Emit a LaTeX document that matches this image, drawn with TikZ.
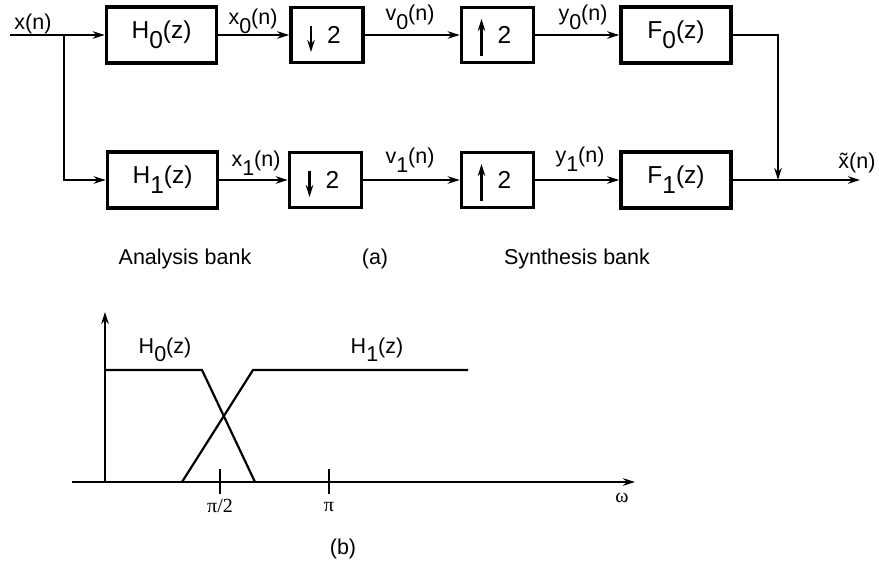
\documentclass[tikz,border=0pt]{standalone}
\usepackage{fontspec}
\setmainfont{Liberation Sans}
\newfontfamily\axisfont{Liberation Serif}
\usetikzlibrary{arrows.meta}
\newcommand\lowsub[1]{\raisebox{-0.4em}{#1}}

\begin{document}
\begin{tikzpicture}[x=1pt, y=-1pt, >={Stealth[length=12pt,width=7.5pt]}]
  \tikzset{
    bigblk/.style={draw, line width=3.6pt, minimum width=110pt, minimum height=56pt,
      inner sep=0pt, font=\fontsize{24.5}{24.5}\selectfont},
    smallblk/.style={bigblk, minimum width=72pt, minimum height=55pt},
    sig/.style={line width=2.2pt},
    siglbl/.style={anchor=base, inner sep=0pt, font=\fontsize{21.5}{21.5}\selectfont},
    caption/.style={anchor=base, inner sep=0pt, font=\fontsize{21.5}{21.5}\selectfont},
    axislbl/.style={anchor=base, inner sep=0pt, font=\axisfont\fontsize{20}{20}\selectfont},
  }
  \useasboundingbox (0,0) rectangle (879,564);

  % ---- (a) the two-channel bank, upper channel first -----------------------
  \node[bigblk]   (h0) at (161.5,35) {H\lowsub{0}(z)};
  \node[smallblk] (d0) at (327,35)   {\hspace*{14pt}2};
  \node[smallblk] (u0) at (497.5,35) {\hspace*{14pt}2};
  \node[bigblk]   (f0) at (676,35)   {F\lowsub{0}(z)};
  \node[bigblk]   (h1) at (162.5,180) {H\lowsub{1}(z)};
  \node[smallblk] (d1) at (325.5,180) {\hspace*{14pt}2};
  \node[smallblk] (u1) at (497.5,180) {\hspace*{14pt}2};
  \node[bigblk]   (f1) at (676,180)   {F\lowsub{1}(z)};

  % rate-change arrows inside the decimator / expander blocks
  \foreach \b in {d0,d1}
    \draw[sig,->] ([xshift=-16pt,yshift=9pt]\b.center) -- ([xshift=-16pt,yshift=-17pt]\b.center);
  \foreach \b in {u0,u1}
    \draw[sig,->] ([xshift=-16pt,yshift=-21pt]\b.center) -- ([xshift=-16pt,yshift=16pt]\b.center);

  % signal paths
  \coordinate (in)    at (10,35);
  \coordinate (split) at (64,35);
  \coordinate (join)  at (778,180);
  \coordinate (out)   at (860,180);
  \draw[sig,->] (in) -- (h0.west);
  \draw[sig,->] (split) |- (h1.west);
  \draw[sig,->] (h0) -- (d0);
  \draw[sig,->] (d0) -- (u0);
  \draw[sig,->] (u0) -- (f0);
  \draw[sig,->] (h1) -- (d1);
  \draw[sig,->] (d1) -- (u1);
  \draw[sig,->] (u1) -- (f1);
  \draw[sig,->] (f0.east) -| (join);
  \draw[sig,->] (f1.east) -- (out);

  % signal names
  \node[siglbl] (lx)  at (33,30)   {x(n)};
  \node[siglbl] (lx0) at (253,25)  {x\lowsub{0}(n)};
  \node[siglbl] (lv0) at (410,21)  {v\lowsub{0}(n)};
  \node[siglbl] (ly0) at (583,21)  {y\lowsub{0}(n)};
  \node[siglbl] (lx1) at (256,167) {x\lowsub{1}(n)};
  \node[siglbl] (lv1) at (410,164) {v\lowsub{1}(n)};
  \node[siglbl] (ly1) at (580,163) {y\lowsub{1}(n)};
  \node[siglbl] (lxr) at (857,169) {\~{x}(n)};

  \node[caption] (ana) at (185,265) {Analysis bank};
  \node[caption] (capa) at (375,265) {(a)};
  \node[caption] (syn) at (577,265) {Synthesis bank};

  % ---- (b) the two magnitude responses -------------------------------------
  \draw[sig,->] (72,482) -- (635,482);
  \draw[sig,->] (105,482) -- (105,312);
  \draw[sig] (105,370) -- (202,370) -- (255,482);
  \draw[sig] (182,482) -- (253,370) -- (468,370);
  \foreach \t in {220,329}
    \draw[sig] (\t,469) -- (\t,494);

  \node[caption] (lh0) at (165,353) {H\lowsub{0}(z)};
  \node[caption] (lh1) at (377,353) {H\lowsub{1}(z)};
  \node[axislbl] (lhalf) at (220,512) {π/2};
  \node[axislbl] (lpi)   at (329,511) {π};
  \node[axislbl] (lw)    at (622,502) {ω};
  \node[caption] (capb)  at (343,554) {(b)};
\end{tikzpicture}
\end{document}
